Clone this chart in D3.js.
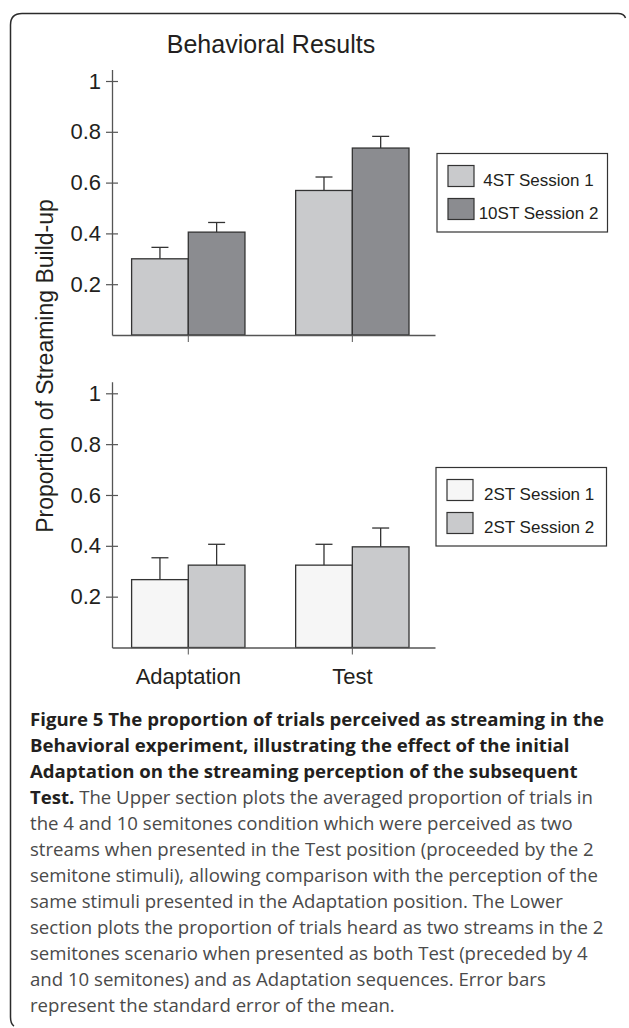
<!DOCTYPE html>
<html>
<head>
<meta charset="utf-8">
<script src="https://cdn.jsdelivr.net/npm/d3@7"></script>
<style>
  body { margin: 0; background: #fff; }
  svg { display: block; }
  text { font-family: "Liberation Sans", Arial, sans-serif; fill: #231f20; }
  .caption text { font-family: "Open Sans", sans-serif; font-size: 18.6px; }
</style>
</head>
<body>
<svg width="629" height="1028"></svg>
<script>
// Data
const conditions = ["Adaptation", "Test"];
const yTicks = [0.2, 0.4, 0.6, 0.8, 1];

const upperSeries = ["4ST Session 1", "10ST Session 2"];
const upperMeans = [[0.30, 0.405], [0.569, 0.736]];   // [condition][series]
const upperErrors = [[0.045, 0.038], [0.053, 0.046]];

const lowerSeries = ["2ST Session 1", "2ST Session 2"];
const lowerMeans = [[0.267, 0.324], [0.324, 0.396]];
const lowerErrors = [[0.086, 0.082], [0.082, 0.074]];

const captionLines = [
  [["Figure 5 The proportion of trials perceived as streaming in the", true]],
  [["Behavioral experiment, illustrating the effect of the initial", true]],
  [["Adaptation on the streaming perception of the subsequent", true]],
  [["Test.", true], [" The Upper section plots the averaged proportion of trials in", false]],
  [["the 4 and 10 semitones condition which were perceived as two", false]],
  [["streams when presented in the Test position (proceeded by the 2", false]],
  [["semitone stimuli), allowing comparison with the perception of the", false]],
  [["same stimuli presented in the Adaptation position. The Lower", false]],
  [["section plots the proportion of trials heard as two streams in the 2", false]],
  [["semitones scenario when presented as both Test (preceded by 4", false]],
  [["and 10 semitones) and as Adaptation sequences. Error bars", false]],
  [["represent the standard error of the mean.", false]]
];

const svg = d3.select("svg");

// Frame (top line and left side with rounded corners)
svg.append("path")
  .attr("d", "M14,1026 Q10.5,1024 10.5,1017 L10.5,25 Q10.5,13.5 22,13.5 L618,13.5 Q624,13.5 625.5,18")
  .attr("fill", "none")
  .attr("stroke", "#2b2b2b")
  .attr("stroke-width", 1.5);

// Title
svg.append("text")
  .attr("x", 271)
  .attr("y", 53)
  .attr("text-anchor", "middle")
  .style("font-size", "25px")
  .text("Behavioral Results");

// Y label
svg.append("text")
  .attr("transform", "translate(53,366) rotate(-90)")
  .attr("text-anchor", "middle")
  .style("font-size", "23px")
  .text("Proportion of Streaming Build-up");

// Shared x scale
const x = d3.scaleBand()
  .domain(conditions)
  .range([112, 435])
  .paddingInner(0.309)
  .paddingOuter(0.139)
  .align(0.43);

function drawPanel(opts) {
  const g = svg.append("g");

  const y = d3.scaleLinear()
    .domain([0, 1.045])
    .range([opts.base, opts.base - 1.045 * opts.unit]);

  const xs = d3.scaleBand()
    .domain(opts.series)
    .range([0, x.bandwidth()]);

  // bars
  const groups = g.selectAll("g.cond")
    .data(conditions)
    .join("g")
    .attr("class", "cond")
    .attr("transform", d => `translate(${x(d)},0)`);

  const rows = (c, ci) => opts.series.map((s, si) => ({
    s: s, si: si, v: opts.means[ci][si], e: opts.errors[ci][si]
  }));

  // error bars drawn first so bar outline sits over the stem
  groups.selectAll("line.stem")
    .data(rows)
    .join("line")
    .attr("class", "stem")
    .attr("x1", d => xs(d.s) + xs.bandwidth() / 2)
    .attr("x2", d => xs(d.s) + xs.bandwidth() / 2)
    .attr("y1", d => y(d.v))
    .attr("y2", d => y(d.v + d.e))
    .attr("stroke", "#333")
    .attr("stroke-width", 1.3);

  groups.selectAll("line.cap")
    .data(rows)
    .join("line")
    .attr("class", "cap")
    .attr("x1", d => xs(d.s) + xs.bandwidth() / 2 - 8.5)
    .attr("x2", d => xs(d.s) + xs.bandwidth() / 2 + 8.5)
    .attr("y1", d => y(d.v + d.e))
    .attr("y2", d => y(d.v + d.e))
    .attr("stroke", "#333")
    .attr("stroke-width", 1.3);

  groups.selectAll("rect")
    .data(rows)
    .join("rect")
    .attr("x", d => xs(d.s))
    .attr("y", d => y(d.v))
    .attr("width", xs.bandwidth())
    .attr("height", d => y(0) - y(d.v))
    .attr("fill", d => opts.colors[d.si])
    .attr("stroke", "#333")
    .attr("stroke-width", 1.3);

  // y axis, ticks crossing the line
  const yAxis = g.append("g")
    .attr("transform", "translate(112,0)")
    .call(d3.axisLeft(y).tickValues(yTicks).tickFormat(d3.format("")).tickSize(6).tickSizeOuter(0).tickPadding(5));
  yAxis.attr("font-size", null).attr("font-family", null);
  yAxis.select(".domain").attr("stroke", "#555").attr("stroke-width", 1.3);
  yAxis.selectAll(".tick line").attr("x1", 6).attr("stroke", "#555").attr("stroke-width", 1.2);
  yAxis.selectAll(".tick text")
    .style("font-size", "22px")
    .attr("fill", "#231f20");

  // x axis
  const xAxis = g.append("g")
    .attr("transform", `translate(0,${opts.base})`)
    .call(d3.axisBottom(x).tickSize(7).tickSizeOuter(0).tickPadding(14)
      .tickFormat(opts.showLabels ? (d => d) : ""));
  xAxis.attr("font-size", null).attr("font-family", null);
  xAxis.select(".domain").attr("stroke", "#555").attr("stroke-width", 1.3);
  xAxis.selectAll(".tick line").attr("stroke", "#555").attr("stroke-width", 1);
  xAxis.selectAll(".tick text")
    .style("font-size", "22px")
    .attr("fill", "#231f20");

  // legend
  const lg = svg.append("g")
    .attr("transform", `translate(${opts.legend[0]},${opts.legend[1]})`);
  lg.append("rect")
    .attr("width", 170.5)
    .attr("height", 78.5)
    .attr("fill", "#fff")
    .attr("stroke", "#333")
    .attr("stroke-width", 1.2);
  const items = lg.selectAll("g.item")
    .data(opts.series)
    .join("g")
    .attr("class", "item")
    .attr("transform", (d, i) => `translate(0,${i * 33})`);
  items.append("rect")
    .attr("x", 11)
    .attr("y", 12)
    .attr("width", 26)
    .attr("height", 21)
    .attr("fill", (d, i) => opts.colors[i])
    .attr("stroke", "#333")
    .attr("stroke-width", 1.2);
  items.append("text")
    .attr("x", opts.legendTextX)
    .attr("y", 32)
    .attr("text-anchor", opts.legendAnchor)
    .style("font-size", "17px")
    .text(d => d);
}

drawPanel({
  base: 335, unit: 254,
  series: upperSeries, means: upperMeans, errors: upperErrors,
  colors: ["#c9cacc", "#8b8c90"],
  legend: [437, 153.5], legendTextX: 101.5, legendAnchor: "middle",
  showLabels: false
});

drawPanel({
  base: 647.5, unit: 254.2,
  series: lowerSeries, means: lowerMeans, errors: lowerErrors,
  colors: ["#f6f6f6", "#c9cacc"],
  legend: [436, 467.5], legendTextX: 48, legendAnchor: "start",
  showLabels: true
});

// Caption
const cap = svg.append("g").attr("class", "caption");
cap.selectAll("text")
  .data(captionLines)
  .join("text")
  .attr("x", 30)
  .attr("y", (d, i) => 726 + i * 26)
  .selectAll("tspan")
  .data(d => d)
  .join("tspan")
  .text(d => d[0])
  .style("font-weight", d => d[1] ? "bold" : "normal")
  .style("fill", d => d[1] ? "#231f20" : "#4a4a4a");
</script>
</body>
</html>
